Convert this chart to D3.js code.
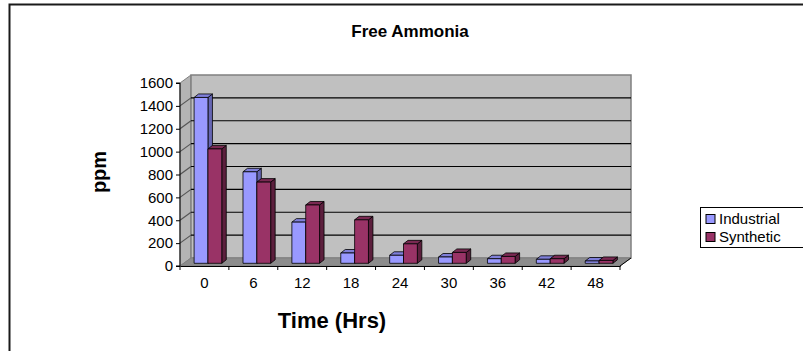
<!DOCTYPE html>
<html>
<head>
<meta charset="utf-8">
<script src="https://cdn.jsdelivr.net/npm/d3@7"></script>
<style>
  html, body { margin: 0; padding: 0; background: #fff; }
  svg { display: block; font-family: Arial, "Liberation Sans", sans-serif; }
</style>
</head>
<body>
<svg id="chart" width="803" height="351"></svg>
<script>
// Free ammonia concentration (ppm) over time
const categories = ["0", "6", "12", "18", "24", "30", "36", "42", "48"];
const seriesNames = ["Industrial", "Synthetic"];
const industrial = [1450, 800, 360, 90, 70, 55, 40, 35, 20];
const synthetic  = [1000, 710, 510, 380, 170, 95, 60, 40, 25];
const yTicks = [0, 200, 400, 600, 800, 1000, 1200, 1400, 1600];

const series = [industrial, synthetic];
const faceColors = [
  { front: "#9999FF", side: "#6666B3", top: "#7F7FD9" },
  { front: "#993366", side: "#5C1F3D", top: "#7A2952" }
];

const svg = d3.select("#chart");

// Front plane of the 3D box
const x0 = 180, x1 = 620, yBase = 266, yTop = 83;
// Depth offset of the back wall
const depthX = 11, depthY = -8;
// Bars sit inside the depth: front face offset and bar depth
const barFrontDX = 3.5, barFrontDY = -2.7;
const barDX = 4.5, barDY = -3.5;

const x = d3.scaleBand().domain(categories).range([x0, x1]);
const y = d3.scaleLinear().domain([0, 1600]).range([yBase, yTop]);

// Outer chart border
svg.append("rect")
  .attr("x", 9.5).attr("y", 4.5).attr("width", 820).attr("height", 400)
  .attr("fill", "#fff").attr("stroke", "#1a1a1a").attr("stroke-width", 2);

// Title
svg.append("text")
  .attr("x", 410).attr("y", 37)
  .attr("text-anchor", "middle")
  .attr("font-size", 17).attr("font-weight", "bold")
  .text("Free Ammonia");

const pts = p => p.map(d => d.join(",")).join(" ");

// Left side wall
svg.append("polygon")
  .attr("points", pts([[x0, yBase], [x0, yTop], [x0 + depthX, yTop + depthY], [x0 + depthX, yBase + depthY]]))
  .attr("fill", "#B4B4B4").attr("stroke", "#808080").attr("stroke-width", 1);

// Back wall
svg.append("polygon")
  .attr("points", pts([[x0 + depthX, yTop + depthY], [x1 + depthX, yTop + depthY], [x1 + depthX, yBase + depthY], [x0 + depthX, yBase + depthY]]))
  .attr("fill", "#C0C0C0").attr("stroke", "#808080").attr("stroke-width", 1.5);

// Floor
svg.append("polygon")
  .attr("points", pts([[x0, yBase], [x1, yBase], [x1 + depthX, yBase + depthY], [x0 + depthX, yBase + depthY]]))
  .attr("fill", "#8C8C8C").attr("stroke", "#808080").attr("stroke-width", 1);

// Gridlines on the back and side walls
const grid = svg.append("g").attr("stroke", "#000").attr("stroke-width", 1.2);
yTicks.filter(v => v > 0 && v < 1600).forEach(v => {
  const yy = y(v);
  grid.append("line")
    .attr("x1", x0 + depthX).attr("x2", x1 + depthX)
    .attr("y1", yy + depthY).attr("y2", yy + depthY);
  grid.append("line")
    .attr("x1", x0).attr("x2", x0 + depthX)
    .attr("y1", yy).attr("y2", yy + depthY)
    .attr("stroke", "#555");
});

// 3D bars
const bw = x.bandwidth() * 0.283;
const bars = svg.append("g").attr("stroke", "#000").attr("stroke-width", 0.8).attr("stroke-linejoin", "round");
categories.forEach((c, i) => {
  const cx = x(c) + x.bandwidth() / 2 + barFrontDX;
  series.forEach((s, k) => {
    const v = s[i];
    const left = cx - bw + k * bw;
    const right = left + bw;
    const top = y(v) + barFrontDY;
    const bottom = y(0) + barFrontDY;
    const col = faceColors[k];
    // right side face
    bars.append("polygon")
      .attr("points", pts([[right, bottom], [right, top], [right + barDX, top + barDY], [right + barDX, bottom + barDY]]))
      .attr("fill", col.side);
    // top face
    bars.append("polygon")
      .attr("points", pts([[left, top], [right, top], [right + barDX, top + barDY], [left + barDX, top + barDY]]))
      .attr("fill", col.top);
    // front face
    bars.append("rect")
      .attr("x", left).attr("y", top)
      .attr("width", bw).attr("height", bottom - top)
      .attr("fill", col.front);
  });
});

// Y axis
const yAxis = svg.append("g")
  .attr("transform", `translate(${x0},0)`)
  .call(d3.axisLeft(y).tickValues(yTicks).tickSize(4).tickPadding(3).tickFormat(d3.format("d")));
yAxis.select(".domain").attr("stroke", "#000").attr("d", `M-4,${yTop}H0V${yBase}H-4`);
yAxis.selectAll(".tick line").attr("stroke", "#000");
yAxis.selectAll("text").attr("font-size", 15).attr("fill", "#000").attr("font-family", "Arial, 'Liberation Sans', sans-serif");

// X axis
const xAxis = svg.append("g")
  .attr("transform", `translate(0,${yBase})`)
  .call(d3.axisBottom(x).tickSize(0).tickPadding(11));
xAxis.select(".domain").attr("stroke", "#000");
xAxis.selectAll("text").attr("font-size", 15).attr("fill", "#000").attr("font-family", "Arial, 'Liberation Sans', sans-serif");
const xBounds = categories.map(c => x(c)).concat([x1]);
xAxis.selectAll(".bound").data(xBounds).enter().append("line")
  .attr("class", "bound")
  .attr("x1", d => d).attr("x2", d => d)
  .attr("y1", 0).attr("y2", 4)
  .attr("stroke", "#000");
// Floor edge receding to the back
svg.append("line")
  .attr("x1", x1).attr("y1", yBase)
  .attr("x2", x1 + depthX).attr("y2", yBase + depthY)
  .attr("stroke", "#000");

// Axis titles
svg.append("text")
  .attr("transform", "translate(106,172) rotate(-90)")
  .attr("text-anchor", "middle")
  .attr("font-size", 20).attr("font-weight", "bold")
  .text("ppm");

svg.append("text")
  .attr("x", 332).attr("y", 328)
  .attr("text-anchor", "middle")
  .attr("font-size", 22).attr("font-weight", "bold")
  .text("Time (Hrs)");

// Legend
const legend = svg.append("g").attr("transform", "translate(700,207)");
legend.append("rect")
  .attr("x", 0.5).attr("y", 0.5).attr("width", 120).attr("height", 40)
  .attr("fill", "#fff").attr("stroke", "#000").attr("stroke-width", 1);
seriesNames.forEach((name, k) => {
  const row = legend.append("g").attr("transform", `translate(6,${12 + k * 18})`);
  row.append("rect")
    .attr("x", 0).attr("y", -4.5).attr("width", 9).attr("height", 9)
    .attr("fill", faceColors[k].front).attr("stroke", "#000").attr("stroke-width", 1);
  row.append("text")
    .attr("x", 13).attr("y", 5)
    .attr("font-size", 15)
    .text(name);
});
</script>
</body>
</html>
